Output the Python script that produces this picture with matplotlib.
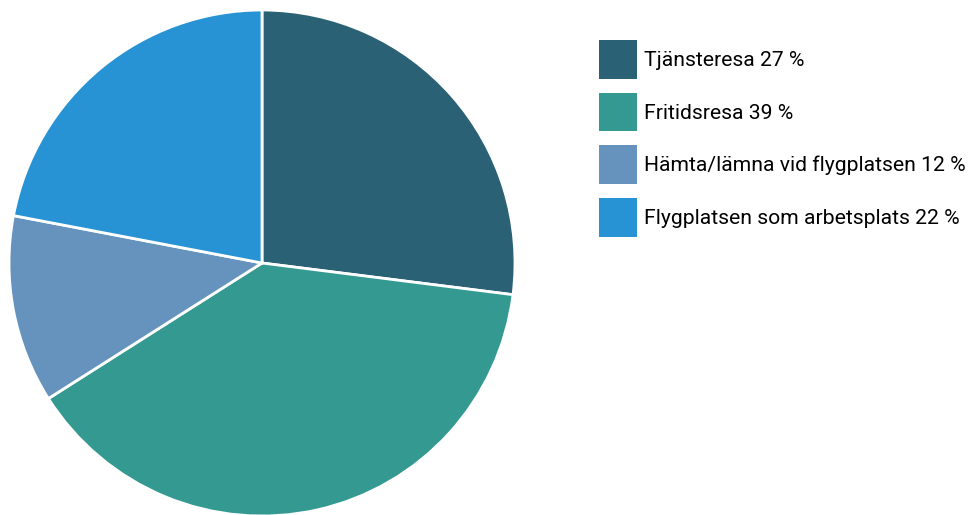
import matplotlib
matplotlib.use("Agg")
import matplotlib.pyplot as plt
from matplotlib.patches import Patch

labels = ["Tjänsteresa 27 %", "Fritidsresa 39 %", "Hämta/lämna vid flygplatsen 12 %", "Flygplatsen som arbetsplats 22 %"]
values = [27, 39, 12, 22]
colors = ["#2a6175", "#349a91", "#6693bd", "#2793d4"]

plt.rcParams['font.family'] = ['Roboto', 'DejaVu Sans']

W, H = 976, 515
fig = plt.figure(figsize=(W/100, H/100), dpi=100)
cx, cy, r = 262, 263, 253
ax = fig.add_axes([(cx - r)/W, (H - cy - r)/H, 2*r/W, 2*r/H])
ax.pie(values, colors=colors, startangle=90, counterclock=False, radius=1,
       wedgeprops=dict(edgecolor="white", linewidth=2))
ax.set_xlim(-1, 1)
ax.set_ylim(-1, 1)
ax.set_aspect("equal")
ax.axis("off")

fpx = 21.2
fs = fpx * 72 / 100
handles = [Patch(facecolor=c, edgecolor="none") for c in colors]
fig.legend(handles, labels, loc="upper left", bbox_to_anchor=(599/W, 1 - 40/H),
           frameon=False, fontsize=fs, handlelength=38/fpx, handleheight=38/(0.737*fpx),
           labelspacing=14/fpx, handletextpad=7/fpx, borderpad=0, borderaxespad=0)
fig.savefig("out.png", dpi=100)
